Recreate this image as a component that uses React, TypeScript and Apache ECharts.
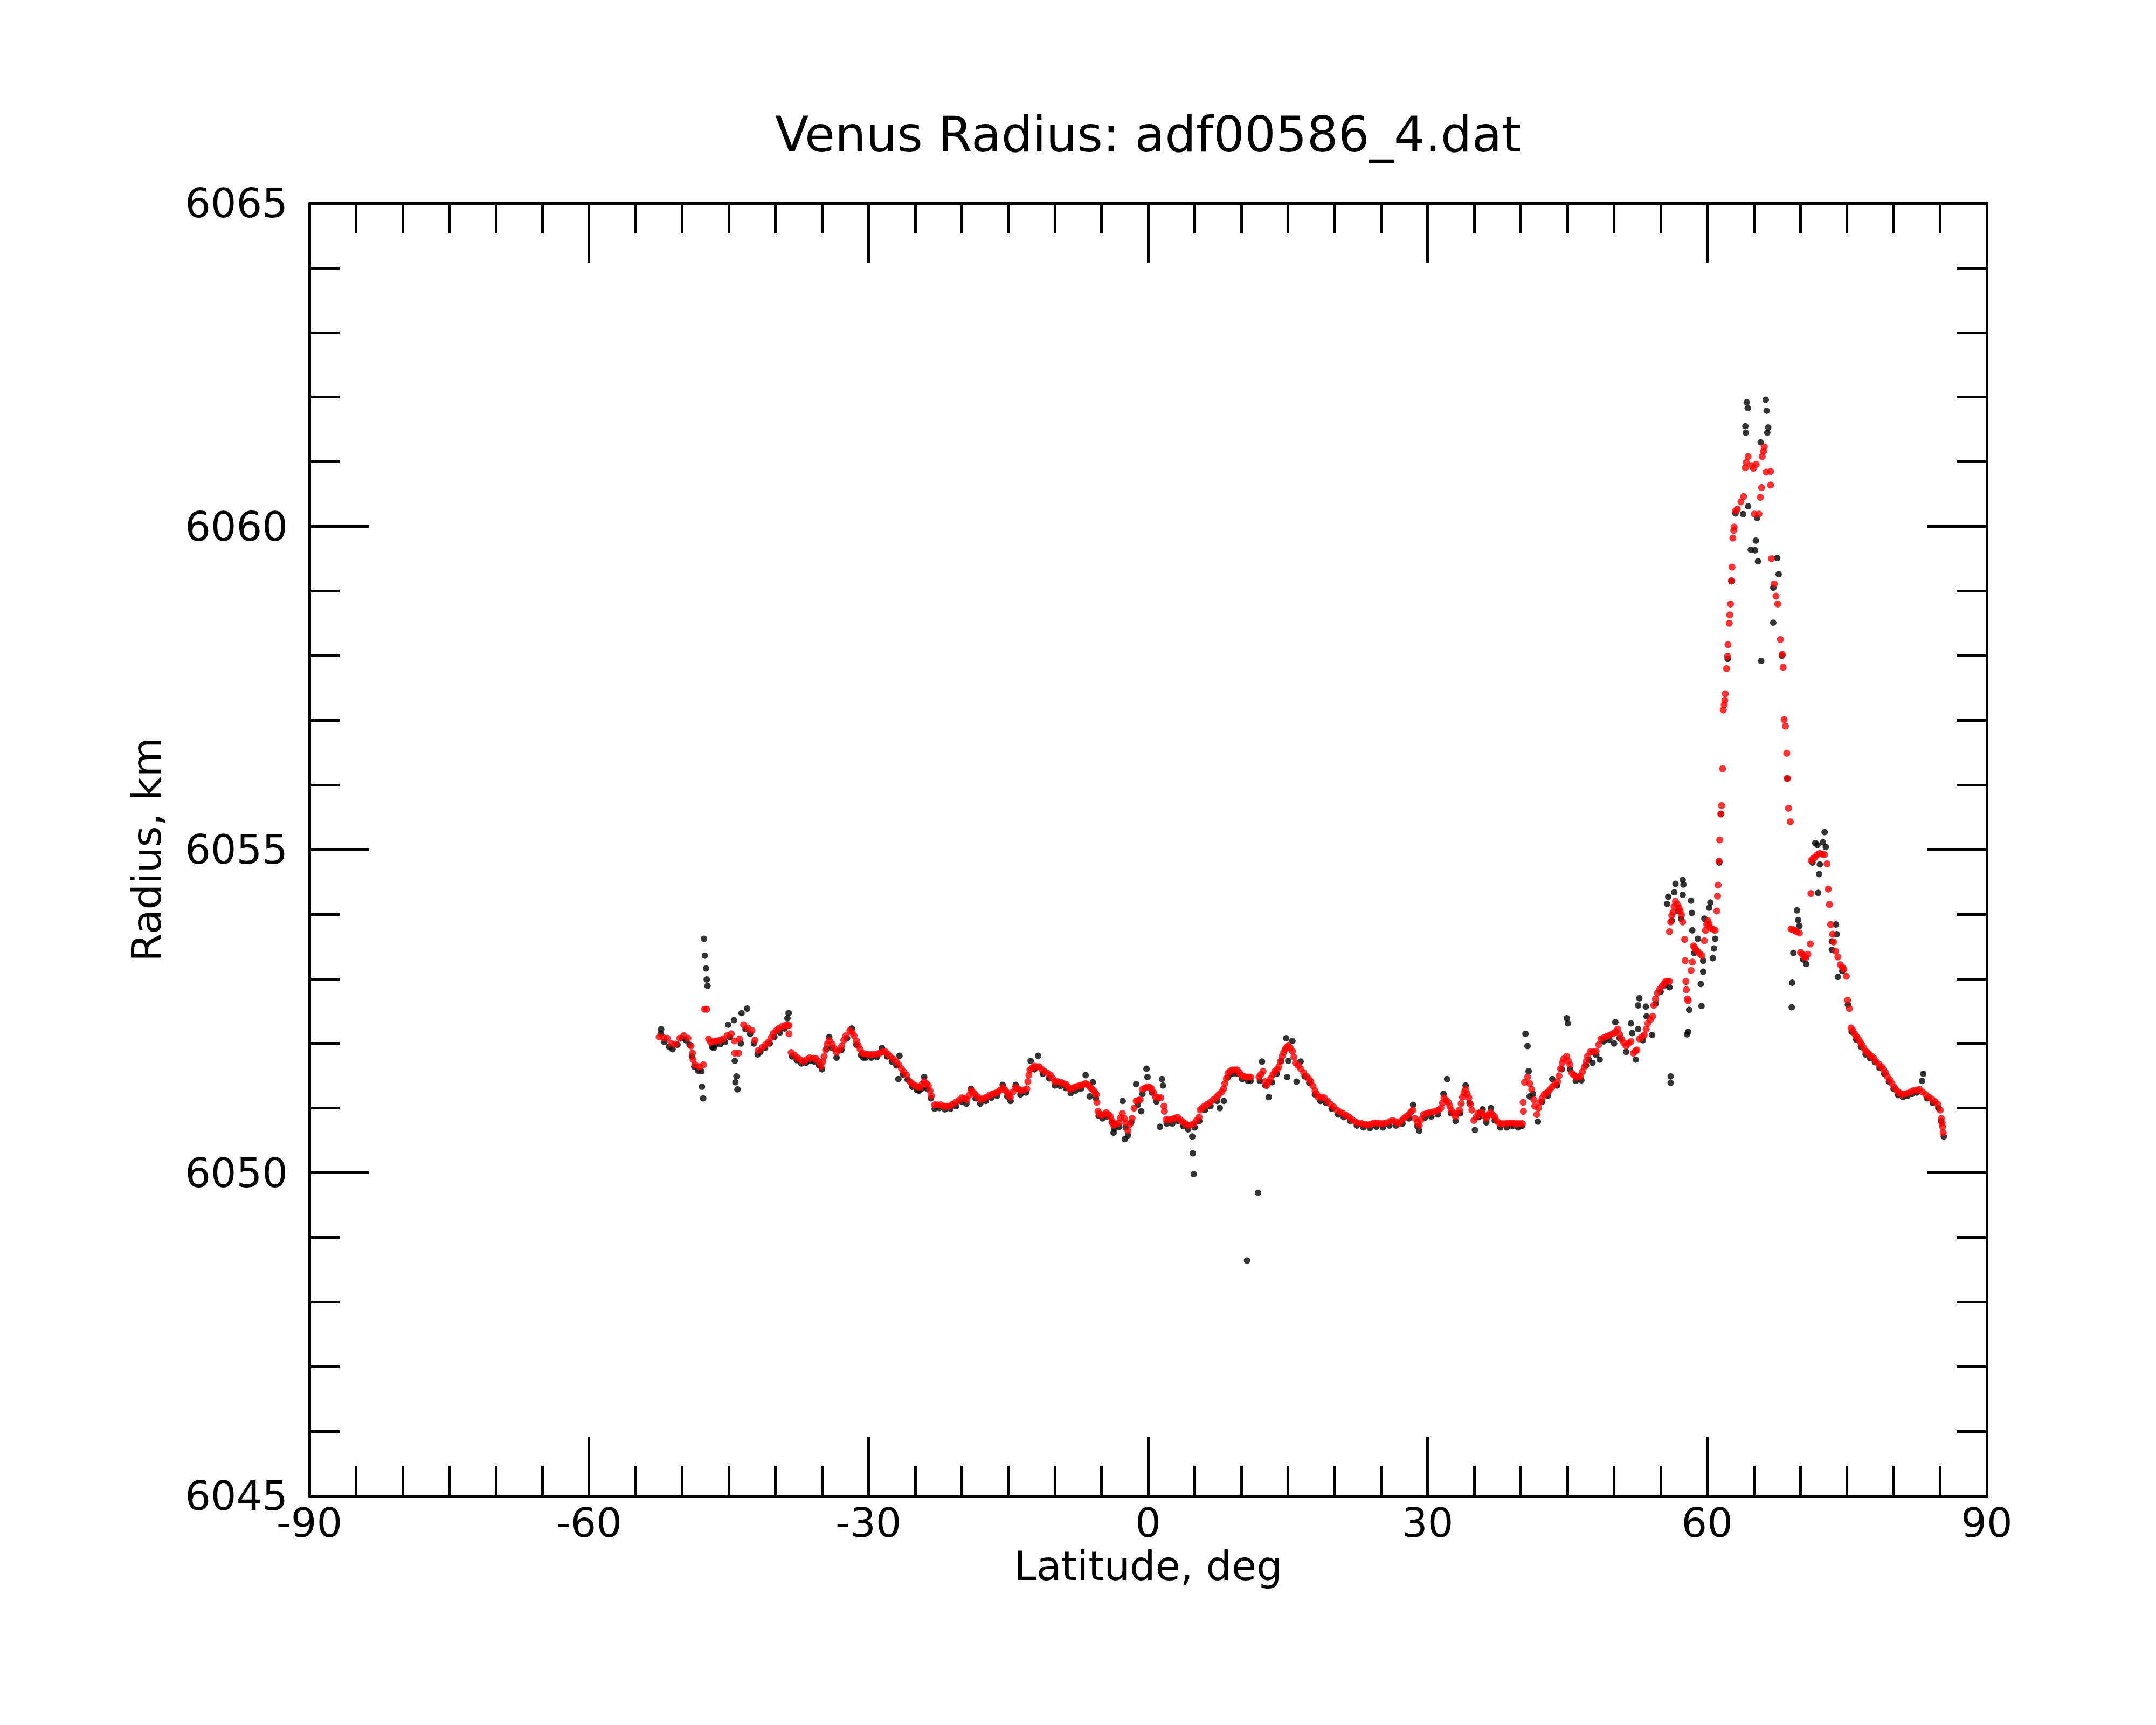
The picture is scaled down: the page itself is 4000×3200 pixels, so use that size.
import React, { useEffect, useRef } from "react";
import * as echarts from "echarts";

const TITLE = "Venus Radius: adf00586_4.dat";
const X_NAME = "Latitude, deg";
const Y_NAME = "Radius, km";
const FONT = "DejaVu Sans";

// Filtered radius profile (red), [latitude deg, radius km]
const filteredSouth: number[][] = [
  [-52.47, 6052.1], [-52.0, 6052.09], [-51.6, 6052.08], [-51.15, 6052.0], [-50.7, 6051.99], [-50.26, 6052.08],
  [-49.82, 6052.12], [-49.37, 6052.08], [-49.04, 6051.96], [-48.89, 6051.85], [-48.82, 6051.75], [-48.6, 6051.67],
  [-48.16, 6051.64], [-47.71, 6051.67], [-47.6, 6052.53], [-47.35, 6052.53], [-47.16, 6052.07], [-46.94, 6052.02],
  [-46.6, 6052.03], [-46.27, 6052.04], [-45.94, 6052.05], [-45.61, 6052.07], [-45.17, 6052.12], [-44.73, 6052.15],
  [-44.39, 6052.04], [-44.35, 6051.85], [-43.95, 6051.85], [-43.84, 6052.07], [-43.4, 6052.29], [-42.95, 6052.24],
  [-42.51, 6052.2], [-42.18, 6052.05], [-41.85, 6051.89], [-41.4, 6051.94], [-41.05, 6051.98], [-40.74, 6052.02],
  [-40.45, 6052.09], [-40.19, 6052.16], [-39.9, 6052.2], [-39.63, 6052.23], [-39.3, 6052.26], [-38.97, 6052.28],
  [-38.7, 6052.28], [-38.53, 6052.28], [-38.53, 6052.15], [-38.3, 6051.86], [-37.95, 6051.82], [-37.64, 6051.78],
  [-37.3, 6051.75], [-36.98, 6051.72], [-36.65, 6051.75], [-36.31, 6051.78], [-35.95, 6051.77], [-35.65, 6051.77],
  [-35.35, 6051.72], [-35.09, 6051.65], [-34.9, 6051.72], [-34.76, 6051.8], [-34.6, 6051.9], [-34.43, 6051.99],
  [-34.21, 6052.05], [-33.88, 6051.99], [-33.65, 6051.92], [-33.43, 6051.86], [-33.15, 6051.9], [-32.88, 6051.96],
  [-32.65, 6052.05], [-32.44, 6052.12], [-32.0, 6052.2], [-31.75, 6052.17], [-31.55, 6052.12], [-31.3, 6052.04],
  [-31.11, 6051.97], [-30.9, 6051.91], [-30.67, 6051.85], [-30.4, 6051.84], [-30.11, 6051.83], [-29.8, 6051.83],
  [-29.45, 6051.83], [-29.1, 6051.84], [-28.79, 6051.85], [-28.5, 6051.87], [-28.23, 6051.88], [-27.95, 6051.84],
  [-27.68, 6051.8], [-27.35, 6051.76], [-27.01, 6051.72], [-26.75, 6051.67], [-26.46, 6051.61], [-26.2, 6051.56],
  [-25.91, 6051.51], [-25.57, 6051.41], [-25.3, 6051.38], [-25.02, 6051.35], [-24.75, 6051.33], [-24.47, 6051.32],
  [-24.25, 6051.37], [-24.02, 6051.41], [-23.8, 6051.38], [-23.58, 6051.35], [-23.4, 6051.27], [-23.25, 6051.19],
  [-22.92, 6051.05], [-22.6, 6051.05], [-22.25, 6051.05], [-21.98, 6051.03],
];

const filteredEquator: number[][] = [
  [-21.65, 6051.03], [-21.32, 6051.03], [-21.0, 6051.06], [-20.65, 6051.09], [-20.3, 6051.12], [-19.99, 6051.16],
  [-19.7, 6051.15], [-19.44, 6051.13], [-19.2, 6051.2], [-18.99, 6051.27], [-18.75, 6051.24], [-18.55, 6051.21],
  [-18.25, 6051.17], [-17.99, 6051.13], [-17.65, 6051.15], [-17.33, 6051.17], [-17.0, 6051.2], [-16.67, 6051.22],
  [-16.4, 6051.23], [-16.11, 6051.25], [-15.85, 6051.28], [-15.56, 6051.32], [-15.35, 6051.28], [-15.12, 6051.24],
  [-14.95, 6051.2], [-14.78, 6051.17], [-14.5, 6051.25], [-14.23, 6051.32], [-13.95, 6051.3], [-13.68, 6051.27],
  [-13.35, 6051.28], [-13.01, 6051.3], [-12.9, 6051.41], [-12.79, 6051.51], [-12.68, 6051.59], [-12.45, 6051.62],
  [-12.24, 6051.65], [-11.95, 6051.64], [-11.69, 6051.64], [-11.4, 6051.6], [-11.13, 6051.57], [-10.8, 6051.54],
  [-10.47, 6051.51], [-10.25, 6051.46], [-10.02, 6051.41], [-9.7, 6051.41], [-9.36, 6051.4], [-9.1, 6051.38],
  [-8.81, 6051.37], [-8.6, 6051.33], [-8.36, 6051.29], [-8.1, 6051.31], [-7.81, 6051.33], [-7.5, 6051.34],
  [-7.26, 6051.35], [-7.0, 6051.36], [-6.7, 6051.38], [-6.45, 6051.36], [-6.26, 6051.33], [-6.05, 6051.3],
  [-5.82, 6051.27], [-5.65, 6051.23], [-5.55, 6051.21], [-5.49, 6051.09], [-5.37, 6050.95], [-5.2, 6050.91],
  [-5.04, 6050.89], [-4.75, 6050.9], [-4.49, 6050.93], [-4.25, 6050.9], [-4.05, 6050.87], [-3.85, 6050.8],
  [-3.72, 6050.74], [-3.45, 6050.75], [-3.16, 6050.77], [-2.95, 6050.85], [-2.76, 6050.92], [-2.55, 6050.84],
  [-2.39, 6050.77], [-2.17, 6050.65], [-1.95, 6050.75], [-1.72, 6050.84], [-1.5, 6051.0], [-1.28, 6051.11],
  [-1.05, 6051.12], [-0.84, 6051.13], [-0.62, 6051.29], [-0.35, 6051.31], [-0.06, 6051.33], [0.18, 6051.32],
  [0.38, 6051.3], [0.6, 6051.24], [0.82, 6051.17], [1.1, 6051.16], [1.38, 6051.16], [1.71, 6051.03],
  [1.75, 6050.95], [1.93, 6050.82], [2.2, 6050.82], [2.48, 6050.82], [2.8, 6050.84], [3.15, 6050.86],
  [3.45, 6050.82], [3.7, 6050.79], [4.0, 6050.76], [4.26, 6050.73], [4.6, 6050.74], [4.92, 6050.76],
  [5.2, 6050.81], [5.47, 6050.86], [5.58, 6050.97], [5.8, 6051.0], [6.03, 6051.03], [6.35, 6051.06],
  [6.69, 6051.09], [7.0, 6051.13], [7.36, 6051.17], [7.6, 6051.21], [7.91, 6051.25], [8.1, 6051.3],
  [8.24, 6051.38], [8.4, 6051.46], [8.57, 6051.54], [8.8, 6051.57], [9.02, 6051.59], [9.3, 6051.59],
  [9.57, 6051.59], [9.8, 6051.55], [10.01, 6051.51], [10.3, 6051.49], [10.57, 6051.48], [10.8, 6051.48],
  [11.01, 6051.48], [11.9, 6051.48], [12.1, 6051.52], [12.34, 6051.57], [12.56, 6051.41],
];

const filteredNorth: number[][] = [
  [12.72, 6051.35], [12.95, 6051.4], [13.16, 6051.46], [13.4, 6051.52], [13.61, 6051.57], [13.85, 6051.6],
  [14.05, 6051.64], [14.2, 6051.72], [14.38, 6051.8], [14.55, 6051.86], [14.71, 6051.91], [14.88, 6051.94],
  [15.04, 6051.97], [15.25, 6051.93], [15.49, 6051.88], [15.65, 6051.79], [15.82, 6051.7], [16.1, 6051.66],
  [16.37, 6051.61], [16.7, 6051.55], [17.04, 6051.49], [17.25, 6051.45], [17.48, 6051.41], [17.7, 6051.34],
  [17.92, 6051.27], [18.1, 6051.22], [18.26, 6051.17], [18.6, 6051.17], [18.92, 6051.16], [19.25, 6051.11],
  [19.58, 6051.06], [19.9, 6051.02], [20.25, 6050.97], [20.6, 6050.94], [20.91, 6050.92], [21.25, 6050.89],
  [21.58, 6050.86], [21.9, 6050.82], [22.24, 6050.79], [22.55, 6050.77], [22.9, 6050.76], [23.25, 6050.75],
  [23.57, 6050.74], [23.9, 6050.75], [24.23, 6050.77], [24.55, 6050.77], [24.9, 6050.76], [25.2, 6050.76],
  [25.56, 6050.77], [25.9, 6050.79], [26.23, 6050.81], [26.55, 6050.79], [26.89, 6050.76], [27.15, 6050.8],
  [27.44, 6050.84], [27.7, 6050.87], [28.0, 6050.9], [28.2, 6050.94], [28.44, 6050.97], [28.66, 6050.84],
  [28.9, 6050.78], [29.1, 6050.73], [29.3, 6050.82], [29.55, 6050.9], [29.9, 6050.92], [30.21, 6050.93],
  [30.55, 6050.94], [30.88, 6050.95], [31.15, 6050.97], [31.43, 6051.0], [31.6, 6051.08], [31.76, 6051.16],
  [32.0, 6051.12], [32.2, 6051.09], [32.38, 6051.03], [32.54, 6050.97], [32.75, 6050.92], [32.98, 6050.87],
  [33.2, 6050.92], [33.42, 6050.97], [33.6, 6051.07], [33.75, 6051.17], [33.9, 6051.24], [34.08, 6051.29],
  [34.25, 6051.22], [34.42, 6051.16], [34.58, 6051.06], [34.75, 6050.97], [34.97, 6050.81], [35.2, 6050.86],
  [35.41, 6050.92], [35.65, 6050.93], [35.86, 6050.93], [36.1, 6050.88], [36.3, 6050.84], [36.5, 6050.89],
  [36.74, 6050.93], [36.95, 6050.9], [37.18, 6050.87], [37.45, 6050.8], [37.74, 6050.76], [38.05, 6050.76],
  [38.4, 6050.76], [38.7, 6050.77], [39.07, 6050.77], [39.35, 6050.76], [39.62, 6050.76], [39.9, 6050.76],
  [40.17, 6050.76], [40.28, 6050.95], [40.25, 6051.09], [40.4, 6051.4], [40.72, 6051.48], [40.95, 6051.38],
  [41.17, 6051.29], [41.39, 6051.13], [41.5, 6051.03], [41.72, 6050.9], [41.9, 6051.0], [42.06, 6051.09],
  [42.28, 6051.15], [42.5, 6051.21], [42.72, 6051.23], [42.94, 6051.25], [43.15, 6051.29], [43.38, 6051.33],
  [43.65, 6051.37], [43.94, 6051.41], [44.1, 6051.5], [44.27, 6051.61], [44.45, 6051.7], [44.6, 6051.76],
  [44.93, 6051.8], [45.1, 6051.73], [45.27, 6051.67], [45.49, 6051.54], [45.7, 6051.51], [45.93, 6051.48],
  [46.15, 6051.48], [46.37, 6051.49], [46.6, 6051.56], [46.82, 6051.64], [47.0, 6051.72], [47.15, 6051.8],
  [47.43, 6051.87], [47.75, 6051.87], [48.08, 6051.88], [48.35, 6051.98], [48.59, 6052.07], [48.9, 6052.09],
  [49.24, 6052.11], [49.55, 6052.13], [49.88, 6052.15], [50.15, 6052.18], [50.4, 6052.22], [50.6, 6052.14],
  [50.79, 6052.07], [51.05, 6052.01], [51.3, 6051.96], [51.55, 6052.0], [51.82, 6052.03], [52.08, 6051.85],
  [52.3, 6051.88], [52.46, 6051.9], [52.72, 6052.07], [53.0, 6052.1], [53.24, 6052.13], [53.45, 6052.22],
  [53.63, 6052.31], [53.9, 6052.37], [54.14, 6052.42], [54.27, 6052.59], [54.45, 6052.69], [54.66, 6052.78],
  [54.9, 6052.84], [55.18, 6052.89], [55.4, 6052.93], [55.56, 6052.96], [55.75, 6052.96], [55.95, 6052.96],
];

const filteredPeak: number[][] = [
  [55.95, 6053.73], [56.08, 6053.88], [56.2, 6053.98], [56.34, 6054.03], [56.45, 6054.12], [56.6, 6054.2],
  [56.8, 6054.15], [56.98, 6054.1], [57.1, 6054.05], [57.24, 6053.99], [57.37, 6053.88], [57.58, 6053.61],
  [57.63, 6053.28], [57.71, 6052.96], [57.76, 6052.83], [57.89, 6052.69], [57.95, 6052.66], [58.27, 6053.13],
  [58.4, 6053.26], [58.53, 6053.51], [58.65, 6053.48], [58.79, 6053.45], [59.0, 6053.42], [59.2, 6053.39],
  [59.44, 6053.36], [59.7, 6053.59], [59.82, 6053.75], [59.95, 6053.84], [60.08, 6053.9], [60.2, 6053.85],
  [60.34, 6053.79], [60.6, 6053.77], [60.86, 6053.75], [61.04, 6054.05], [61.11, 6054.28], [61.17, 6054.45],
  [61.27, 6054.82], [61.35, 6055.15], [61.46, 6055.55], [61.54, 6055.68], [61.65, 6056.25], [61.73, 6057.16],
  [61.83, 6057.24], [61.89, 6057.31], [61.94, 6057.41], [62.08, 6057.8], [62.18, 6057.99], [62.23, 6058.17],
  [62.37, 6058.5], [62.43, 6058.63], [62.5, 6058.8], [62.6, 6059.16], [62.66, 6059.37], [62.75, 6059.82],
  [62.85, 6059.94], [62.89, 6059.99], [63.04, 6060.24], [63.23, 6060.27], [63.62, 6060.38], [63.91, 6060.46],
  [64.1, 6060.91], [64.2, 6060.99], [64.39, 6061.08], [64.78, 6060.94], [64.97, 6060.9], [65.07, 6060.19],
  [65.26, 6060.96], [65.55, 6060.19], [65.7, 6060.45], [65.84, 6060.6], [65.9, 6061.08], [66.03, 6061.16],
  [66.13, 6061.23], [66.32, 6060.84], [66.8, 6060.85], [66.8, 6060.64], [66.9, 6059.5], [67.19, 6059.11],
  [67.38, 6058.92], [67.57, 6058.8], [67.86, 6058.25], [68.06, 6058.02], [68.15, 6057.82], [68.25, 6057.01],
  [68.4, 6056.91], [68.54, 6056.49], [68.6, 6056.1], [68.73, 6055.64], [68.92, 6055.43],
];

const filteredPolar: number[][] = [
  [69.0, 6053.77], [69.2, 6053.76], [69.38, 6053.75], [69.6, 6053.73], [69.9, 6053.71], [70.02, 6053.41],
  [70.2, 6053.38], [70.41, 6053.34], [70.6, 6053.33], [70.8, 6053.38], [71.06, 6053.54], [71.13, 6054.32],
  [71.18, 6054.83], [71.35, 6054.86], [71.57, 6054.88], [71.8, 6054.92], [72.09, 6054.94], [72.35, 6054.93],
  [72.6, 6054.92], [72.86, 6054.78], [72.99, 6054.39], [73.12, 6054.15], [73.25, 6053.84], [73.46, 6053.69],
  [73.56, 6053.57], [73.77, 6053.43], [74.02, 6053.34], [74.28, 6053.22], [74.5, 6053.18], [74.67, 6053.15],
  [74.93, 6053.04], [75.06, 6052.67], [75.26, 6052.54], [75.44, 6052.24], [75.63, 6052.2], [75.83, 6052.15],
  [76.02, 6052.11], [76.22, 6052.07], [76.42, 6052.02], [76.61, 6051.98], [76.8, 6051.93], [77.0, 6051.88],
  [77.2, 6051.86], [77.38, 6051.83], [77.65, 6051.8], [77.9, 6051.77], [78.15, 6051.72], [78.42, 6051.68],
  [78.7, 6051.64], [78.93, 6051.6], [79.12, 6051.55], [79.32, 6051.49], [79.58, 6051.44], [79.83, 6051.38],
  [80.1, 6051.32], [80.35, 6051.27], [80.6, 6051.24], [80.87, 6051.21], [81.2, 6051.22], [81.51, 6051.23],
  [81.85, 6051.25], [82.16, 6051.27], [82.5, 6051.28], [82.8, 6051.29], [83.1, 6051.25], [83.45, 6051.21],
  [83.8, 6051.17], [84.1, 6051.14], [84.45, 6051.1], [84.74, 6051.06], [85.0, 6050.97], [85.13, 6050.84],
  [85.2, 6050.77], [85.26, 6050.71], [85.33, 6050.62],
];

// Raw radius samples (black), [latitude deg, radius km]
const rawSouth: number[][] = [
  [-52.25, 6052.22], [-52.3, 6052.15], [-51.9, 6052.02], [-51.4, 6051.95], [-51.03, 6051.91], [-50.5, 6051.98],
  [-50.0, 6052.08], [-49.6, 6052.05], [-49.2, 6051.98], [-48.95, 6051.8], [-48.7, 6051.64], [-48.3, 6051.58],
  [-47.93, 6051.57], [-47.87, 6051.33], [-47.74, 6051.15], [-47.65, 6053.62], [-47.56, 6053.36], [-47.43, 6053.16],
  [-47.36, 6052.99], [-47.27, 6052.89], [-46.8, 6051.95], [-46.6, 6051.93], [-46.4, 6051.98], [-45.9, 6051.99],
  [-45.4, 6052.02], [-45.06, 6052.29], [-44.9, 6052.1], [-44.44, 6052.36], [-44.35, 6051.73], [-44.28, 6051.4],
  [-44.17, 6051.49], [-44.06, 6051.29], [-43.7, 6052.0], [-43.62, 6052.47], [-43.02, 6052.54], [-43.2, 6052.22],
  [-42.7, 6052.15], [-42.3, 6052.0], [-41.9, 6051.83], [-41.6, 6051.87], [-41.1, 6051.93], [-40.6, 6052.0],
  [-40.1, 6052.1], [-39.5, 6052.17], [-39.0, 6052.23], [-38.7, 6052.39], [-38.57, 6052.47], [-38.2, 6051.8],
  [-37.7, 6051.74], [-37.2, 6051.69], [-36.7, 6051.7], [-36.2, 6051.73], [-35.8, 6051.72], [-35.3, 6051.66],
  [-35.0, 6051.6], [-34.5, 6051.92], [-34.21, 6052.1], [-33.9, 6051.93], [-33.43, 6051.78], [-32.9, 6051.9],
  [-32.3, 6052.08], [-31.78, 6052.23], [-31.3, 6051.98], [-30.8, 6051.82], [-30.56, 6051.78], [-30.3, 6051.78],
  [-29.7, 6051.78], [-29.1, 6051.79], [-28.56, 6051.93], [-28.0, 6051.8], [-27.5, 6051.72], [-27.0, 6051.66],
  [-26.79, 6051.45], [-26.68, 6051.81], [-26.3, 6051.52], [-25.8, 6051.44], [-25.3, 6051.33], [-24.8, 6051.28],
  [-24.58, 6051.27], [-24.3, 6051.3], [-24.02, 6051.48], [-23.7, 6051.3], [-23.3, 6051.15], [-22.9, 6050.99],
  [-22.4, 6051.0], [-21.8, 6050.98],
];

const rawEquator: number[][] = [
  [-21.2, 6050.99], [-20.6, 6051.03], [-20.0, 6051.1], [-19.5, 6051.07], [-19.0, 6051.3], [-18.5, 6051.15],
  [-18.0, 6051.07], [-17.4, 6051.11], [-16.8, 6051.16], [-16.2, 6051.19], [-15.6, 6051.36], [-15.1, 6051.18],
  [-14.75, 6051.11], [-14.2, 6051.36], [-13.7, 6051.21], [-13.1, 6051.24], [-12.6, 6051.73], [-12.2, 6051.6],
  [-11.8, 6051.81], [-11.3, 6051.53], [-10.6, 6051.46], [-10.0, 6051.35], [-9.4, 6051.34], [-8.8, 6051.31],
  [-8.3, 6051.23], [-7.8, 6051.27], [-7.2, 6051.3], [-6.7, 6051.51], [-6.26, 6051.18], [-5.93, 6051.4],
  [-5.6, 6051.15], [-5.3, 6050.88], [-4.9, 6050.84], [-4.4, 6050.87], [-3.9, 6050.78], [-3.7, 6050.62],
  [-3.6, 6050.68], [-3.1, 6050.71], [-2.72, 6051.11], [-2.5, 6050.52], [-2.4, 6050.7], [-2.15, 6050.58],
  [-1.8, 6050.78], [-1.28, 6051.37], [-1.1, 6051.05], [-0.73, 6050.95], [-0.6, 6051.22], [-0.17, 6051.61],
  [-0.06, 6051.48], [0.4, 6051.24], [0.9, 6051.1], [1.27, 6050.71], [1.49, 6051.45], [1.6, 6051.35],
  [2.0, 6050.76], [2.6, 6050.76], [3.2, 6050.8], [3.8, 6050.72], [4.3, 6050.67], [4.75, 6050.56],
  [4.8, 6050.3], [4.9, 6049.98], [5.0, 6050.7], [5.5, 6050.8], [6.1, 6050.97], [6.7, 6051.03],
  [7.4, 6051.11], [7.69, 6051.0], [8.13, 6051.11], [8.6, 6051.48], [9.1, 6051.53], [9.6, 6051.53],
  [10.1, 6051.45], [10.62, 6048.64], [10.7, 6051.42], [11.0, 6051.42], [11.8, 6049.69], [12.0, 6051.42],
  [12.23, 6051.72], [12.6, 6051.35],
];

const rawNorth: number[][] = [
  [12.94, 6051.17], [13.3, 6051.4], [13.8, 6051.53], [14.3, 6051.73], [14.82, 6052.08], [14.93, 6051.48],
  [15.04, 6051.73], [15.49, 6052.04], [15.93, 6051.41], [16.37, 6051.72], [16.8, 6051.49], [17.3, 6051.39],
  [17.9, 6051.21], [18.5, 6051.11], [19.1, 6051.08], [19.7, 6050.99], [20.4, 6050.9], [21.0, 6050.86],
  [21.7, 6050.8], [22.4, 6050.73], [23.1, 6050.7], [23.8, 6050.69], [24.5, 6050.71], [25.2, 6050.7],
  [25.9, 6050.73], [26.6, 6050.73], [27.3, 6050.76], [28.0, 6050.84], [28.44, 6051.05], [28.9, 6050.72],
  [29.1, 6050.65], [29.7, 6050.85], [30.4, 6050.87], [31.1, 6050.9], [31.7, 6051.22], [32.09, 6051.45],
  [32.5, 6050.92], [33.0, 6050.8], [33.5, 6050.92], [34.08, 6051.35], [34.5, 6051.08], [35.08, 6050.66],
  [35.5, 6050.86], [35.9, 6050.98], [36.3, 6050.78], [36.8, 6051.0], [37.2, 6050.81], [37.8, 6050.7],
  [38.5, 6050.7], [39.1, 6050.72], [39.7, 6050.7], [40.1, 6050.72], [40.5, 6052.15], [40.72, 6051.96],
  [40.84, 6051.57], [40.95, 6051.18], [41.3, 6051.22], [41.83, 6050.79], [42.3, 6051.1], [42.9, 6051.19],
  [43.38, 6051.45], [43.9, 6051.35], [44.4, 6051.6], [44.93, 6052.39], [45.05, 6052.31], [45.3, 6051.6],
  [45.9, 6051.42], [46.5, 6051.43], [47.0, 6051.66], [47.3, 6051.75], [47.69, 6051.7], [48.1, 6051.82],
  [48.46, 6051.75], [48.9, 6052.03], [49.5, 6052.06], [50.01, 6052.0], [50.14, 6052.33], [50.6, 6052.08],
  [51.3, 6051.87], [51.82, 6052.31], [51.95, 6052.16], [52.34, 6051.75], [52.59, 6052.22], [52.59, 6052.59],
  [52.72, 6052.7], [53.1, 6052.05], [53.42, 6052.57], [53.5, 6052.42], [54.09, 6052.13], [54.5, 6052.62],
  [55.0, 6052.8], [55.5, 6052.9], [55.69, 6054.16], [55.82, 6054.27], [55.95, 6052.87], [56.08, 6051.49],
  [56.08, 6051.39], [56.2, 6053.9], [56.47, 6054.34], [56.6, 6054.47], [56.9, 6054.05], [57.2, 6053.93],
  [57.37, 6054.3], [57.37, 6054.53], [57.45, 6054.46], [57.84, 6052.14], [57.96, 6052.18], [58.07, 6052.52],
  [58.27, 6054.21], [58.35, 6054.02], [58.4, 6053.75], [58.6, 6053.4], [59.0, 6053.62], [59.31, 6052.92],
  [59.39, 6052.58], [59.57, 6053.11], [59.57, 6053.28], [59.7, 6053.93], [60.21, 6054.1], [60.34, 6054.18],
  [60.6, 6053.32], [60.73, 6053.47], [60.86, 6053.62],
];

const rawPeak: number[][] = [
  [61.3, 6054.8], [61.5, 6055.55], [62.2, 6057.95], [62.6, 6059.15], [63.04, 6060.2], [63.85, 6060.19],
  [64.1, 6061.55], [64.14, 6061.45], [64.24, 6061.92], [64.35, 6061.83], [64.39, 6060.31], [64.68, 6059.64],
  [65.13, 6059.63], [65.22, 6059.78], [65.36, 6060.13], [65.45, 6059.46], [65.74, 6061.3], [65.8, 6057.92],
  [66.28, 6061.96], [66.38, 6061.79], [66.45, 6061.45], [66.55, 6061.53], [67.09, 6058.51], [67.1, 6059.05],
  [67.52, 6059.51], [67.67, 6059.26], [68.0, 6058.0], [68.6, 6056.1],
];

const rawPolar: number[][] = [
  [69.07, 6052.56], [69.12, 6052.94], [69.25, 6053.4], [69.64, 6054.06], [69.77, 6053.91], [69.9, 6053.82],
  [70.3, 6053.3], [70.62, 6053.23], [71.3, 6054.8], [71.6, 6055.1], [71.83, 6055.07], [71.91, 6054.33],
  [72.01, 6054.62], [72.09, 6054.77], [72.42, 6055.11], [72.6, 6055.27], [72.73, 6055.04], [73.38, 6053.58],
  [73.38, 6053.45], [73.82, 6053.84], [73.9, 6053.69], [74.02, 6053.03], [74.5, 6053.12], [75.1, 6052.6],
  [75.5, 6052.18], [76.0, 6052.06], [76.5, 6051.95], [77.0, 6051.83], [77.5, 6051.77], [78.0, 6051.71],
  [78.5, 6051.62], [79.0, 6051.53], [79.5, 6051.41], [80.0, 6051.3], [80.5, 6051.2], [81.0, 6051.17],
  [81.5, 6051.19], [82.0, 6051.22], [82.5, 6051.24], [83.06, 6051.42], [83.19, 6051.53], [83.6, 6051.15],
  [84.2, 6051.08], [84.8, 6051.0], [85.1, 6050.8], [85.39, 6050.56],
];

const X_MIN = -90;
const X_MAX = 90;
const X_STEP = 30;
const Y_MIN = 6045;
const Y_MAX = 6065;
const Y_STEP = 5;

function axisBase(showLabel: boolean, minorSplit: number) {
  return {
    axisLine: { show: true, onZero: false, lineStyle: { color: "#000", width: 5 } },
    axisTick: { show: true, inside: true, length: 110, lineStyle: { color: "#000", width: 5 } },
    minorTick: { show: true, splitNumber: minorSplit, length: 56, lineStyle: { color: "#000", width: 5 } },
    splitLine: { show: false },
    minorSplitLine: { show: false },
    axisLabel: {
      show: showLabel,
      color: "#000",
      fontSize: 75,
      fontFamily: FONT,
      showMinLabel: true,
      showMaxLabel: true,
      formatter: (v: number) => String(v),
    },
  };
}

export default function App() {
  const ref = useRef<HTMLDivElement>(null);
  useEffect(() => {
    document.body.style.margin = "0";
    if (!ref.current) return;
    const chart = echarts.init(ref.current, undefined, { renderer: "svg" });
    const xb = axisBase(true, 6);
    const yb = axisBase(true, 5);
    chart.setOption({
      animation: false,
      backgroundColor: "#ffffff",
      grid: { left: 574, right: 314, top: 377, bottom: 425, containLabel: false },
      graphic: [
        {
          type: "text",
          x: 2130,
          y: 249,
          style: {
            text: TITLE,
            fill: "#000",
            font: `91px '${FONT}'`,
            textAlign: "center",
            textVerticalAlign: "middle",
          },
        },
      ],
      xAxis: [
        {
          type: "value", min: X_MIN, max: X_MAX, interval: X_STEP, position: "bottom",
          ...xb,
          axisLabel: { ...xb.axisLabel, margin: 12 },
          name: X_NAME, nameLocation: "middle", nameGap: 92,
          nameTextStyle: { color: "#000", fontSize: 75, fontFamily: FONT },
        },
        {
          type: "value", min: X_MIN, max: X_MAX, interval: X_STEP, position: "top",
          ...axisBase(false, 6),
        },
      ],
      yAxis: [
        {
          type: "value", min: Y_MIN, max: Y_MAX, interval: Y_STEP, position: "left",
          ...yb,
          axisLabel: { ...yb.axisLabel, margin: 40 },
          name: Y_NAME, nameLocation: "middle", nameGap: 265,
          nameTextStyle: { color: "#000", fontSize: 75, fontFamily: FONT },
        },
        {
          type: "value", min: Y_MIN, max: Y_MAX, interval: Y_STEP, position: "right",
          ...axisBase(false, 5),
        },
      ],
      series: [
        {
          type: "scatter", name: "raw", xAxisIndex: 0, yAxisIndex: 0,
          symbol: "circle", symbolSize: 12, silent: true,
          itemStyle: { color: "#000000" },
          data: [...rawSouth, ...rawEquator, ...rawNorth, ...rawPeak, ...rawPolar],
        },
        {
          type: "scatter", name: "filtered", xAxisIndex: 0, yAxisIndex: 0,
          symbol: "circle", symbolSize: 13, silent: true,
          itemStyle: { color: "#ff0000" },
          data: [...filteredSouth, ...filteredEquator, ...filteredNorth, ...filteredPeak, ...filteredPolar],
        },
      ],
    });
    return () => chart.dispose();
  }, []);
  return <div ref={ref} style={{ width: "4000px", height: "3200px" }} />;
}
